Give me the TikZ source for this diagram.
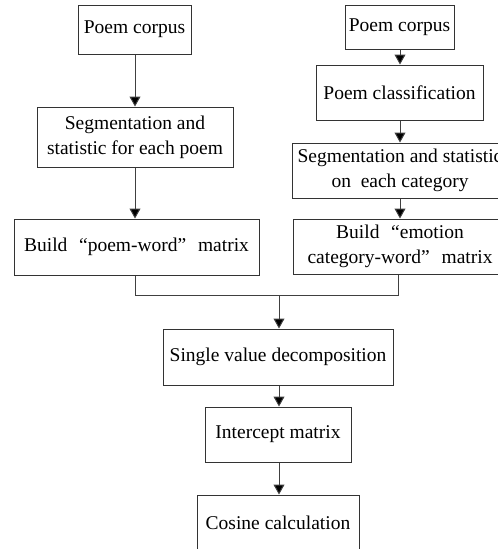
\documentclass[tikz,border=0pt]{standalone}
\usepackage{fontspec}
\setmainfont{Liberation Serif}
\usetikzlibrary{arrows.meta}
\begin{document}
\begin{tikzpicture}[x=1pt,y=-1pt,
  box/.style={draw=black!80, line width=1pt, align=center, inner sep=0pt,
    font=\fontsize{19.5}{25}\selectfont},
  flow/.style={draw=black!75, line width=1pt, -{Triangle[width=11pt,length=10pt,fill=black]}},
  link/.style={draw=black!75, line width=1pt}]
\useasboundingbox (0,0) rectangle (498,549);
% left column
\node[box, minimum width=113pt, minimum height=49pt] (pc1) at (134.5,29.5) {Poem corpus};
\node[box, minimum width=196pt, minimum height=60pt] (seg1) at (135,137) {Segmentation and\\statistic for each poem};
\node[box, minimum width=245pt, minimum height=56pt] (build1) at (136.5,247) {Build\hspace{0.6em}“poem-word”\hspace{0.6em}matrix};
% right column
\node[box, minimum width=109pt, minimum height=44pt] (pc2) at (399.5,27) {Poem corpus};
\node[box, minimum width=167pt, minimum height=55pt] (cls) at (399.5,92.5) {Poem classification};
\node[box, minimum width=216pt, minimum height=55pt] (seg2) at (400,170.5) {Segmentation and statistic\\on\ \ each category};
\node[box, minimum width=214pt, minimum height=55pt] (build2) at (400,246.5) {Build\hspace{0.6em}“emotion\\category-word”\hspace{0.6em}matrix};
% lower column
\node[box, minimum width=230pt, minimum height=56pt] (svd) at (278,357) {Single value decomposition};
\node[box, minimum width=146pt, minimum height=55pt] (inter) at (278,434.5) {Intercept matrix};
\node[box, minimum width=162pt, minimum height=56pt] (cos) at (278,523) {Cosine calculation};
% coordinates for the junction
\coordinate (jl) at (135,295);
\coordinate (jr) at (398,295);
\coordinate (jm) at (279,295);
% connectors
\draw[flow] (135,0 |- pc1.south) -- (135,0 |- seg1.north);
\draw[flow] (135,0 |- seg1.south) -- (135,0 |- build1.north);
\draw[flow] (400,0 |- pc2.south) -- (400,0 |- cls.north);
\draw[flow] (400,0 |- cls.south) -- (400,0 |- seg2.north);
\draw[flow] (400,0 |- seg2.south) -- (400,0 |- build2.north);
\draw[link] (jl |- build1.south) -- (jl) -- (jr) -- (jr |- build2.south);
\draw[flow] (jm) -- (jm |- svd.north);
\draw[flow] (jm |- svd.south) -- (jm |- inter.north);
\draw[flow] (jm |- inter.south) -- (jm |- cos.north);
\end{tikzpicture}
\end{document}
